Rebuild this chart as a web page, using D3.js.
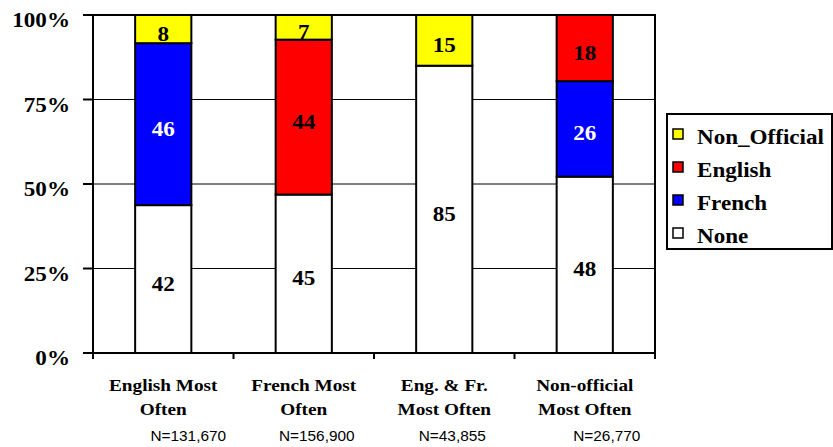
<!DOCTYPE html>
<html>
<head>
<meta charset="utf-8">
<script src="https://cdn.jsdelivr.net/npm/d3@7"></script>
<style>
  html, body { margin: 0; padding: 0; background: #fff; }
  svg { display: block; }
  .serif { font-family: "Liberation Serif", "Times New Roman", Times, serif; font-weight: 700; }
  .sans { font-family: "Liberation Sans", Arial, Helvetica, sans-serif; font-weight: 400; }
</style>
</head>
<body>
<svg id="chart" width="833" height="447"></svg>
<script>
// ---- data ----
const categories = ["English Most Often", "French Most Often", "Eng. & Fr. Most Often", "Non-official Most Often"];
const categoryLines = [["English Most", "Often"], ["French Most", "Often"], ["Eng. & Fr.", "Most Often"], ["Non-official", "Most Often"]];
const sampleSizes = ["N=131,670", "N=156,900", "N=43,855", "N=26,770"];
const seriesNames = ["None", "French", "English", "Non_Official"];
const noneValues = [42, 45, 85, 48];
const frenchValues = [46, 0, 0, 26];
const englishValues = [0, 44, 0, 18];
const nonOfficialValues = [8, 7, 15, 0];
const yTickValues = [0, 25, 50, 75, 100];
const legendOrder = ["Non_Official", "English", "French", "None"];

// ---- layout / style ----
const colors = { None: "#FFFFFF", French: "#0000FF", English: "#FF0000", Non_Official: "#FFFF00" };
const labelColors = { None: "#000", French: "#FFF", English: "#000", Non_Official: "#000" };
const nLabelNudge = [25, 13, 8, 22];
const SX = 1.1;
const plot = { left: 93, right: 655, top: 15, bottom: 353 };

const rows = categories.map((c, i) => ({
  category: c,
  None: noneValues[i], French: frenchValues[i], English: englishValues[i], Non_Official: nonOfficialValues[i]
}));

const stacked = d3.stack().keys(seriesNames).offset(d3.stackOffsetExpand)(rows);

const svg = d3.select("#chart");
const x = d3.scaleBand().domain(categories).range([plot.left, plot.right]).paddingInner(0.6).paddingOuter(0.3);
const y = d3.scaleLinear().domain([0, 1]).range([plot.bottom, plot.top]);

function placeText(sel, px, py) {
  return sel.attr("transform", `translate(${px},${py}) scale(${SX},1)`);
}

// gridlines
svg.append("g").selectAll("line").data(yTickValues.filter(v => v > 0 && v < 100)).join("line")
  .attr("x1", plot.left).attr("x2", plot.right)
  .attr("y1", d => y(d / 100)).attr("y2", d => y(d / 100))
  .attr("stroke", "#000").attr("stroke-width", 1);

// bars
const segs = svg.append("g");
stacked.forEach(layer => {
  const key = layer.key;
  layer.forEach((d, i) => {
    if (d[1] - d[0] <= 0) return;
    const cat = categories[i];
    segs.append("rect")
      .attr("x", x(cat)).attr("width", x.bandwidth())
      .attr("y", y(d[1])).attr("height", y(d[0]) - y(d[1]))
      .attr("fill", colors[key]).attr("stroke", "#000").attr("stroke-width", 2);
  });
});

// value labels
stacked.forEach(layer => {
  const key = layer.key;
  layer.forEach((d, i) => {
    const v = rows[i][key];
    if (!v) return;
    const cat = categories[i];
    const cy = (y(d[0]) + y(d[1])) / 2;
    placeText(svg.append("text"), x(cat) + x.bandwidth() / 2, cy + 11.5)
      .attr("class", "serif")
      .attr("text-anchor", "middle")
      .style("font-size", "21px")
      .attr("fill", labelColors[key]).text(v);
  });
});

// frame
const frame = svg.append("g").attr("stroke", "#000").attr("stroke-width", 2).attr("fill", "none");
frame.append("line").attr("x1", plot.left).attr("x2", plot.left).attr("y1", plot.top).attr("y2", plot.bottom);
frame.append("line").attr("x1", plot.right).attr("x2", plot.right).attr("y1", plot.top).attr("y2", plot.bottom + 6);
frame.append("line").attr("x1", plot.left).attr("x2", plot.right + 1).attr("y1", plot.top).attr("y2", plot.top);
frame.append("line").attr("x1", plot.left - 10).attr("x2", plot.right + 1).attr("y1", plot.bottom).attr("y2", plot.bottom);

// y ticks
yTickValues.forEach(v => {
  const yy = y(v / 100);
  svg.append("line").attr("x1", plot.left - 10).attr("x2", plot.left)
    .attr("y1", yy).attr("y2", yy).attr("stroke", "#000").attr("stroke-width", 2);
  placeText(svg.append("text"), 70, yy + 12)
    .attr("class", "serif")
    .attr("text-anchor", "end")
    .style("font-size", "21px")
    .text(v + "%");
});

// x ticks at band boundaries
const step = x.step();
const tickXs = [plot.left].concat(categories.map(c => x(c) + x.bandwidth() + (step - x.bandwidth()) / 2));
tickXs.forEach(tx => {
  svg.append("line").attr("x1", tx).attr("x2", tx).attr("y1", plot.bottom).attr("y2", plot.bottom + 6)
    .attr("stroke", "#000").attr("stroke-width", 2);
});

// category labels
categories.forEach((c, i) => {
  const cx = x(c) + x.bandwidth() / 2;
  categoryLines[i].forEach((line, j) => {
    placeText(svg.append("text"), cx, 391 + j * 24)
      .attr("class", "serif")
      .attr("text-anchor", "middle")
      .style("font-size", "17.5px")
      .text(line);
  });
  placeText(svg.append("text"), cx + nLabelNudge[i], 441)
    .attr("class", "sans")
    .attr("text-anchor", "middle")
    .style("font-size", "14px")
    .text(sampleSizes[i]);
});

// legend
const lg = svg.append("g");
lg.append("rect").attr("x", 667).attr("y", 114).attr("width", 165).attr("height", 135)
  .attr("fill", "#fff").attr("stroke", "#000").attr("stroke-width", 2);
legendOrder.forEach((k, i) => {
  const cy = 134 + i * 33;
  lg.append("rect").attr("x", 673).attr("y", cy - 5).attr("width", 10).attr("height", 10)
    .attr("fill", colors[k]).attr("stroke", "#000").attr("stroke-width", 1.5);
  placeText(lg.append("text"), 697, cy + 10)
    .attr("class", "serif")
    .style("font-size", "21px")
    .text(k);
});
</script>
</body>
</html>
